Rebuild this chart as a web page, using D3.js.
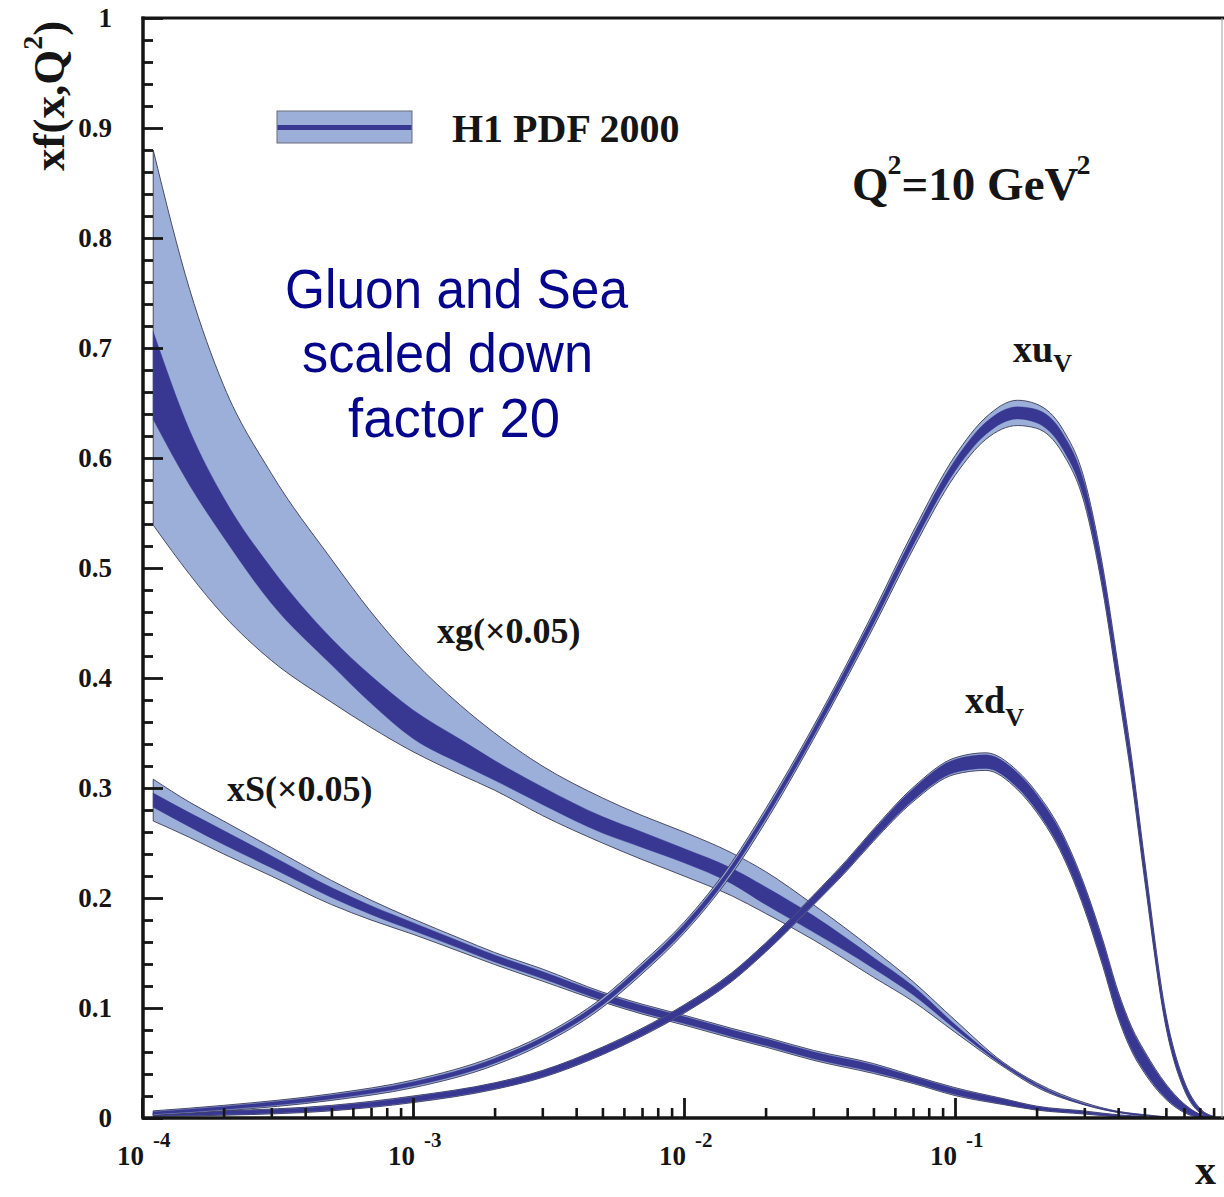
<!DOCTYPE html>
<html>
<head>
<meta charset="utf-8">
<script src="https://cdn.jsdelivr.net/npm/d3@7"></script>
<style>
  html, body { margin: 0; padding: 0; background: #ffffff; }
  svg { display: block; }
</style>
</head>
<body>
<svg id="chart" width="1224" height="1197"></svg>
<script>
// ---------------- data (x, and xf(x,Q^2) at Q^2 = 10 GeV^2) ----------------
// Gluon (scaled by 0.05): total-uncertainty and experimental-uncertainty edges
const gluonX = [1.1e-4, 1.5e-4, 2e-4, 3e-4, 5e-4, 7e-4, 1e-3, 1.5e-3, 2e-3, 3e-3, 5e-3, 7e-3,
                1e-2, 1.5e-2, 2e-2, 3e-2, 5e-2, 7e-2, 0.1, 0.15, 0.2, 0.3, 0.4, 0.5, 0.6];
const gluonTotHi = [0.880, 0.753, 0.666, 0.586, 0.508, 0.460, 0.416, 0.375, 0.350, 0.320, 0.291, 0.275,
                    0.260, 0.241, 0.224, 0.194, 0.153, 0.124, 0.089, 0.051, 0.032, 0.014, 0.006, 0.003, 0.001];
const gluonExpHi = [0.715, 0.625, 0.564, 0.500, 0.436, 0.402, 0.371, 0.344, 0.325, 0.301, 0.274, 0.260,
                    0.245, 0.227, 0.210, 0.184, 0.146, 0.120, 0.085, 0.050, 0.031, 0.013, 0.006, 0.003, 0.001];
const gluonExpLo = [0.635, 0.575, 0.528, 0.468, 0.412, 0.377, 0.345, 0.322, 0.307, 0.285, 0.259, 0.246,
                    0.232, 0.213, 0.194, 0.169, 0.136, 0.112, 0.081, 0.048, 0.029, 0.012, 0.005, 0.002, 0.001];
const gluonTotLo = [0.539, 0.494, 0.457, 0.416, 0.378, 0.355, 0.333, 0.312, 0.298, 0.275, 0.250, 0.235,
                    0.220, 0.202, 0.186, 0.162, 0.128, 0.106, 0.078, 0.047, 0.028, 0.012, 0.005, 0.002, 0.001];

// Sea (scaled by 0.05): central value with total / experimental half-widths
const seaX = [1.1e-4, 1.5e-4, 2e-4, 3e-4, 5e-4, 7e-4, 1e-3, 1.5e-3, 2e-3, 3e-3, 5e-3, 7e-3,
              1e-2, 1.5e-2, 2e-2, 3e-2, 5e-2, 7e-2, 0.1, 0.15, 0.2, 0.3, 0.4, 0.5];
const seaMid = [0.289, 0.271, 0.255, 0.233, 0.205, 0.189, 0.174, 0.157, 0.145, 0.130, 0.110, 0.099,
                0.089, 0.077, 0.069, 0.057, 0.045, 0.035, 0.024, 0.015, 0.009, 0.005, 0.002, 0.001];
const seaTot = [0.019, 0.016, 0.015, 0.013, 0.011, 0.009, 0.007, 0.006, 0.0055, 0.0055, 0.0045, 0.0045,
                0.0045, 0.0045, 0.0045, 0.0045, 0.0045, 0.0036, 0.0036, 0.0027, 0.0018, 0.0014, 0.0009, 0.0005];
const seaExp = [0.0064, 0.0064, 0.0064, 0.0055, 0.0045, 0.004, 0.0036, 0.0032, 0.0032, 0.0032, 0.0032, 0.0032,
                0.0032, 0.0032, 0.0032, 0.0032, 0.0032, 0.0027, 0.0027, 0.0023, 0.0014, 0.0009, 0.0006, 0.0003];

// Valence quarks
const valX = [1.1e-4, 2e-4, 5e-4, 1e-3, 2e-3, 3e-3, 5e-3, 7e-3, 1e-2, 1.5e-2,
              2e-2, 3e-2, 4e-2, 5e-2, 7e-2, 0.1, 0.13, 0.17, 0.2, 0.25,
              0.3, 0.35, 0.4, 0.45, 0.5, 0.6, 0.7, 0.8, 0.9];
const uvMid = [0.0045, 0.009, 0.019, 0.031, 0.052, 0.071, 0.105, 0.136, 0.173, 0.227,
               0.275, 0.350, 0.407, 0.453, 0.525, 0.593, 0.627, 0.641, 0.638, 0.615,
               0.570, 0.492, 0.400, 0.315, 0.227, 0.089, 0.030, 0.007, 0.001];
const uvTot = [0.002, 0.0025, 0.003, 0.0035, 0.004, 0.004, 0.0045, 0.005, 0.005, 0.0055,
               0.006, 0.006, 0.0065, 0.007, 0.008, 0.009, 0.010, 0.0115, 0.011, 0.011,
               0.011, 0.011, 0.011, 0.010, 0.009, 0.006, 0.004, 0.002, 0.0005];
const uvExp = [0.0012, 0.0015, 0.0018, 0.002, 0.0022, 0.0022, 0.0025, 0.0028, 0.003, 0.003,
               0.0032, 0.0035, 0.0038, 0.004, 0.0045, 0.005, 0.0055, 0.0055, 0.006, 0.007,
               0.0075, 0.008, 0.008, 0.007, 0.0065, 0.0045, 0.003, 0.0015, 0.0004];
const dvMid = [0.003, 0.0045, 0.009, 0.017, 0.029, 0.040, 0.061, 0.078, 0.099, 0.128,
               0.155, 0.198, 0.230, 0.257, 0.294, 0.320, 0.324, 0.307, 0.287, 0.248,
               0.201, 0.151, 0.103, 0.071, 0.051, 0.024, 0.009, 0.002, 0.000];
const dvTot = [0.0015, 0.002, 0.0025, 0.003, 0.003, 0.0032, 0.0035, 0.0036, 0.0038, 0.004,
               0.0042, 0.0045, 0.005, 0.0055, 0.0065, 0.0075, 0.008, 0.0085, 0.009, 0.010,
               0.011, 0.012, 0.012, 0.011, 0.010, 0.007, 0.004, 0.0015, 0.0003];
const dvExp = [0.0012, 0.0016, 0.002, 0.0024, 0.0025, 0.0027, 0.003, 0.003, 0.0032, 0.0034,
               0.0036, 0.0038, 0.004, 0.0045, 0.0052, 0.006, 0.0062, 0.0068, 0.0072, 0.0082,
               0.0092, 0.0102, 0.0102, 0.0094, 0.0085, 0.006, 0.0034, 0.0013, 0.0002];

// Axis ticks and labels
const xDecades = [1e-4, 1e-3, 1e-2, 1e-1];
const xDecadeExponents = ["-4", "-3", "-2", "-1"];
const yMajorTicks = [0, 0.1, 0.2, 0.3, 0.4, 0.5, 0.6, 0.7, 0.8, 0.9, 1];
const yTickLabels = ["0", "0.1", "0.2", "0.3", "0.4", "0.5", "0.6", "0.7", "0.8", "0.9", "1"];

// ---------------- drawing ----------------
const LIGHT = "#9cafd9";
const DARK = "#383892";
const EDGE = "#3b3b55";
const INK = "#151515";
const SERIF = "'Liberation Serif', 'Times New Roman', serif";

const svg = d3.select("#chart");
const x = d3.scaleLog().domain([1e-4, 1]).range([142, 1226]);
const y = d3.scaleLinear().domain([0, 1]).range([1118, 18]);

svg.append("defs").append("clipPath").attr("id", "plot-area")
  .append("rect").attr("x", 142).attr("y", 18).attr("width", 1084).attr("height", 1100);

const plot = svg.append("g").attr("clip-path", "url(#plot-area)");

function bandPath(xs, lo, hi) {
  const idx = d3.range(xs.length);
  return d3.area()
    .x(i => x(xs[i]))
    .y0(i => y(Math.max(0, lo[i])))
    .y1(i => y(hi[i]))
    .curve(d3.curveMonotoneX)(idx);
}

function drawBand(xs, totLo, totHi, expLo, expHi) {
  const g = plot.append("g");
  g.append("path").attr("d", bandPath(xs, totLo, totHi))
    .attr("fill", LIGHT).attr("stroke", EDGE).attr("stroke-width", 0.9);
  g.append("path").attr("d", bandPath(xs, expLo, expHi))
    .attr("fill", DARK).attr("stroke", DARK).attr("stroke-width", 0.4);
}

function drawSymmetric(xs, mid, tot, exp) {
  drawBand(xs,
    mid.map((m, i) => m - tot[i]), mid.map((m, i) => m + tot[i]),
    mid.map((m, i) => m - exp[i]), mid.map((m, i) => m + exp[i]));
}

drawBand(gluonX, gluonTotLo, gluonTotHi, gluonExpLo, gluonExpHi);
drawSymmetric(seaX, seaMid, seaTot, seaExp);
drawSymmetric(valX, dvMid, dvTot, dvExp);
drawSymmetric(valX, uvMid, uvTot, uvExp);

// ---------------- axes ----------------
const axisG = svg.append("g");

// minor and major x ticks, pointing into the plot
const xMinor = [];
[1e-4, 1e-3, 1e-2, 1e-1].forEach(d => { for (let k = 2; k <= 9; k++) xMinor.push(d * k); });
axisG.append("g").attr("transform", "translate(0,1118)")
  .call(d3.axisBottom(x).tickValues(xMinor).tickSize(-10).tickFormat(""))
  .call(g => g.select(".domain").remove())
  .call(g => g.selectAll("line").attr("stroke", INK).attr("stroke-width", 2.6));
axisG.append("g").attr("transform", "translate(0,1118)")
  .call(d3.axisBottom(x).tickValues(xDecades).tickSize(-20).tickFormat(""))
  .call(g => g.select(".domain").remove())
  .call(g => g.selectAll("line").attr("stroke", INK).attr("stroke-width", 2.8));

// y ticks every 0.02, longer at each 0.1
const yMinor = d3.range(1, 50).map(k => k * 0.02).filter((v, i) => (i + 1) % 5 !== 0);
axisG.append("g").attr("transform", "translate(143,0)")
  .call(d3.axisLeft(y).tickValues(yMinor).tickSize(-10).tickFormat(""))
  .call(g => g.select(".domain").remove())
  .call(g => g.selectAll("line").attr("stroke", INK).attr("stroke-width", 2.8));
axisG.append("g").attr("transform", "translate(143,0)")
  .call(d3.axisLeft(y).tickValues(yMajorTicks).tickSize(-20).tickFormat(""))
  .call(g => g.select(".domain").remove())
  .call(g => g.selectAll("line").attr("stroke", INK).attr("stroke-width", 2.8));

// frame lines
axisG.append("line").attr("x1", 142).attr("x2", 1224).attr("y1", 1118).attr("y2", 1118)
  .attr("stroke", INK).attr("stroke-width", 3.5);
axisG.append("line").attr("x1", 143).attr("x2", 143).attr("y1", 16.5).attr("y2", 1119.5)
  .attr("stroke", INK).attr("stroke-width", 3.5);
axisG.append("line").attr("x1", 141.5).attr("x2", 1224).attr("y1", 18).attr("y2", 18)
  .attr("stroke", INK).attr("stroke-width", 3);
axisG.append("line").attr("x1", 1222).attr("x2", 1222).attr("y1", 18).attr("y2", 1118)
  .attr("stroke", "#a0a0a0").attr("stroke-width", 1);

// y tick labels
svg.append("g").selectAll("text").data(yMajorTicks).join("text")
  .attr("x", 112).attr("y", d => y(d)).attr("dy", "0.34em")
  .attr("text-anchor", "end")
  .attr("font-family", SERIF).attr("font-weight", "bold").attr("font-size", 27)
  .attr("fill", INK)
  .text((d, i) => yTickLabels[i]);

// x tick labels: 10 with a raised exponent
const xl = svg.append("g").attr("font-family", SERIF).attr("font-weight", "bold").attr("fill", INK);
xl.selectAll("text.base").data(xDecades).join("text").attr("class", "base")
  .attr("x", d => x(d) + 2).attr("y", 1165).attr("text-anchor", "end")
  .attr("font-size", 27).text("10");
xl.selectAll("text.exp").data(xDecades).join("text").attr("class", "exp")
  .attr("x", d => x(d) + 11).attr("y", 1147)
  .attr("font-size", 21).text((d, i) => xDecadeExponents[i]);

// axis titles
svg.append("text").attr("x", 1195).attr("y", 1184)
  .attr("font-family", SERIF).attr("font-weight", "bold").attr("font-size", 42)
  .attr("fill", INK).text("x");

const yt = svg.append("text").attr("transform", "translate(64,171) rotate(-90)")
  .attr("font-family", SERIF).attr("font-weight", "bold").attr("font-size", 45).attr("fill", INK);
yt.append("tspan").text("xf(x,Q");
yt.append("tspan").attr("font-size", 28).attr("dy", -22).text("2");
yt.append("tspan").attr("dy", 22).text(")");

// legend
svg.append("rect").attr("x", 277).attr("y", 111).attr("width", 135).attr("height", 32)
  .attr("fill", LIGHT).attr("stroke", "#6a6a7a").attr("stroke-width", 1);
svg.append("rect").attr("x", 277.5).attr("y", 125).attr("width", 134).attr("height", 5)
  .attr("fill", DARK);
svg.append("text").attr("x", 452).attr("y", 142)
  .attr("font-family", SERIF).attr("font-weight", "bold").attr("font-size", 40)
  .attr("fill", INK).text("H1 PDF 2000");

// scale statement
const q = svg.append("text").attr("x", 852).attr("y", 200)
  .attr("font-family", SERIF).attr("font-weight", "bold").attr("font-size", 47).attr("fill", INK);
q.append("tspan").text("Q");
q.append("tspan").attr("font-size", 28).attr("dy", -26).attr("dx", -1).text("2");
q.append("tspan").attr("dy", 26).text("=10 GeV");
q.append("tspan").attr("font-size", 28).attr("dy", -26).attr("dx", -2).text("2");

// note on scaling
const noteLines = [
  { t: "Gluon and Sea", x: 285, y: 308, w: 343 },
  { t: "scaled down", x: 302, y: 372, w: 291 },
  { t: "factor 20", x: 348, y: 437, w: 212 }
];
svg.append("g").selectAll("text").data(noteLines).join("text")
  .attr("x", d => d.x).attr("y", d => d.y)
  .attr("textLength", d => d.w).attr("lengthAdjust", "spacingAndGlyphs")
  .attr("font-family", "'Liberation Sans', Arial, sans-serif").attr("font-size", 55)
  .attr("fill", "#06068c").text(d => d.t);

// curve labels
const lab = svg.append("g").attr("font-family", SERIF).attr("font-weight", "bold").attr("fill", INK);
lab.append("text").attr("x", 437).attr("y", 643).attr("font-size", 36).text("xg(\u00d70.05)");
lab.append("text").attr("x", 227).attr("y", 801).attr("font-size", 36).text("xS(\u00d70.05)");
const lu = lab.append("text").attr("x", 1013).attr("y", 362).attr("font-size", 38);
lu.append("tspan").text("xu");
lu.append("tspan").attr("font-size", 26).attr("dy", 10).text("V");
const ld = lab.append("text").attr("x", 965).attr("y", 713).attr("font-size", 38);
ld.append("tspan").text("xd");
ld.append("tspan").attr("font-size", 26).attr("dy", 13).text("V");
</script>
</body>
</html>
